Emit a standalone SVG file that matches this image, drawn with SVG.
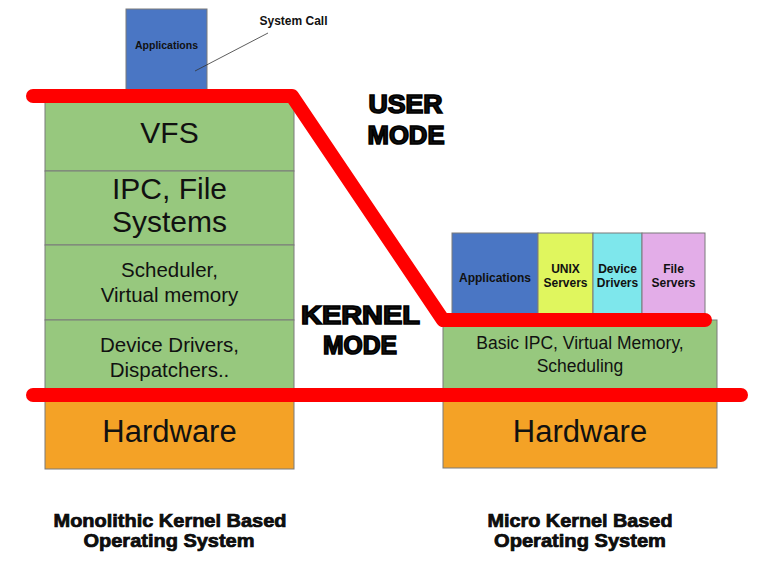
<svg xmlns="http://www.w3.org/2000/svg" width="757" height="561" viewBox="0 0 757 561">
<style>
.box{stroke:#7a7a7a;stroke-width:1}
.g{fill:#97c87e}
.hw{fill:#f4a226}
.bl{fill:#4a76c4}
.ye{fill:#e0f65e}
.cy{fill:#7ee7ec}
.pk{fill:#e3ade8}
text{font-family:"Liberation Sans",Arial,sans-serif;fill:#111;text-anchor:middle}
.b{font-weight:bold}
.big{font-size:30px}
.hwt{font-size:31px}
.mid{font-size:20.5px}
.sm{font-size:12px;font-weight:bold}
.mode{font-size:25px;font-weight:bold;stroke:#000;stroke-width:1.6}
.lab{font-size:19px;font-weight:bold;stroke:#000;stroke-width:0.7}
.red{fill:none;stroke:#ff0000;stroke-width:14;stroke-linecap:round;stroke-linejoin:round}
</style>
<rect width="757" height="561" fill="#ffffff"/>
<g id="mono-apps"><rect class="box bl" x="126" y="9" width="81" height="87"/><text class="b" x="166.5" y="49" font-size="10.5">Applications</text></g>
<g id="vfs"><rect class="box g" x="45" y="96" width="249" height="75"/><text class="big" x="169.5" y="143">VFS</text></g>
<g id="ipc"><rect class="box g" x="45" y="171" width="249" height="74"/><text class="big" x="169.5" y="199">IPC, File</text><text class="big" x="169.5" y="232">Systems</text></g>
<g id="sched"><rect class="box g" x="45" y="245" width="249" height="75"/><text class="mid" x="169.5" y="277">Scheduler,</text><text class="mid" x="169.5" y="302">Virtual memory</text></g>
<g id="drivers"><rect class="box g" x="45" y="320" width="249" height="75"/><text class="mid" x="169.5" y="352">Device Drivers,</text><text class="mid" x="169.5" y="377">Dispatchers..</text></g>
<g id="mono-hw"><rect class="box hw" x="45" y="395" width="249" height="74"/><text class="hwt" x="169.5" y="442">Hardware</text></g>
<g id="micro-apps"><rect class="box bl" x="452" y="233" width="86" height="87"/><text class="sm" x="495" y="282">Applications</text></g>
<g id="unix"><rect class="box ye" x="538" y="233" width="55" height="87"/><text class="sm" x="565.5" y="273">UNIX</text><text class="sm" x="565.5" y="287">Servers</text></g>
<g id="devdrv"><rect class="box cy" x="593" y="233" width="49" height="87"/><text class="sm" x="617.5" y="273">Device</text><text class="sm" x="617.5" y="287">Drivers</text></g>
<g id="fileserv"><rect class="box pk" x="642" y="233" width="63" height="87"/><text class="sm" x="673.5" y="273">File</text><text class="sm" x="673.5" y="287">Servers</text></g>
<g id="basic"><rect class="box g" x="443" y="320" width="274" height="75"/><text x="580" y="349" font-size="17.5">Basic IPC, Virtual Memory,</text><text x="580" y="372" font-size="17.5">Scheduling</text></g>
<g id="micro-hw"><rect class="box hw" x="443" y="395" width="274" height="73"/><text class="hwt" x="580" y="442">Hardware</text></g>
<g id="connectors">
<path class="red" d="M33 96 L292 96 L443 320 L705 320"/>
<path class="red" d="M33 395 L741 395"/>
<line x1="268" y1="33" x2="195" y2="71" stroke="#333" stroke-width="0.8"/>
</g>
<g id="labels">
<text class="sm" x="293.5" y="25">System Call</text>
<text class="mode" x="405.5" y="113" textLength="74" lengthAdjust="spacingAndGlyphs">USER</text>
<text class="mode" x="406" y="144" textLength="77" lengthAdjust="spacingAndGlyphs">MODE</text>
<text class="mode" x="360.5" y="324" textLength="119" lengthAdjust="spacingAndGlyphs">KERNEL</text>
<text class="mode" x="360" y="354" textLength="74" lengthAdjust="spacingAndGlyphs">MODE</text>
<text class="lab" x="170" y="527" textLength="233" lengthAdjust="spacingAndGlyphs">Monolithic Kernel Based</text>
<text class="lab" x="169" y="547" textLength="171" lengthAdjust="spacingAndGlyphs">Operating System</text>
<text class="lab" x="580" y="527" textLength="185" lengthAdjust="spacingAndGlyphs">Micro Kernel Based</text>
<text class="lab" x="580" y="547" textLength="172" lengthAdjust="spacingAndGlyphs">Operating System</text>
</g>
</svg>
